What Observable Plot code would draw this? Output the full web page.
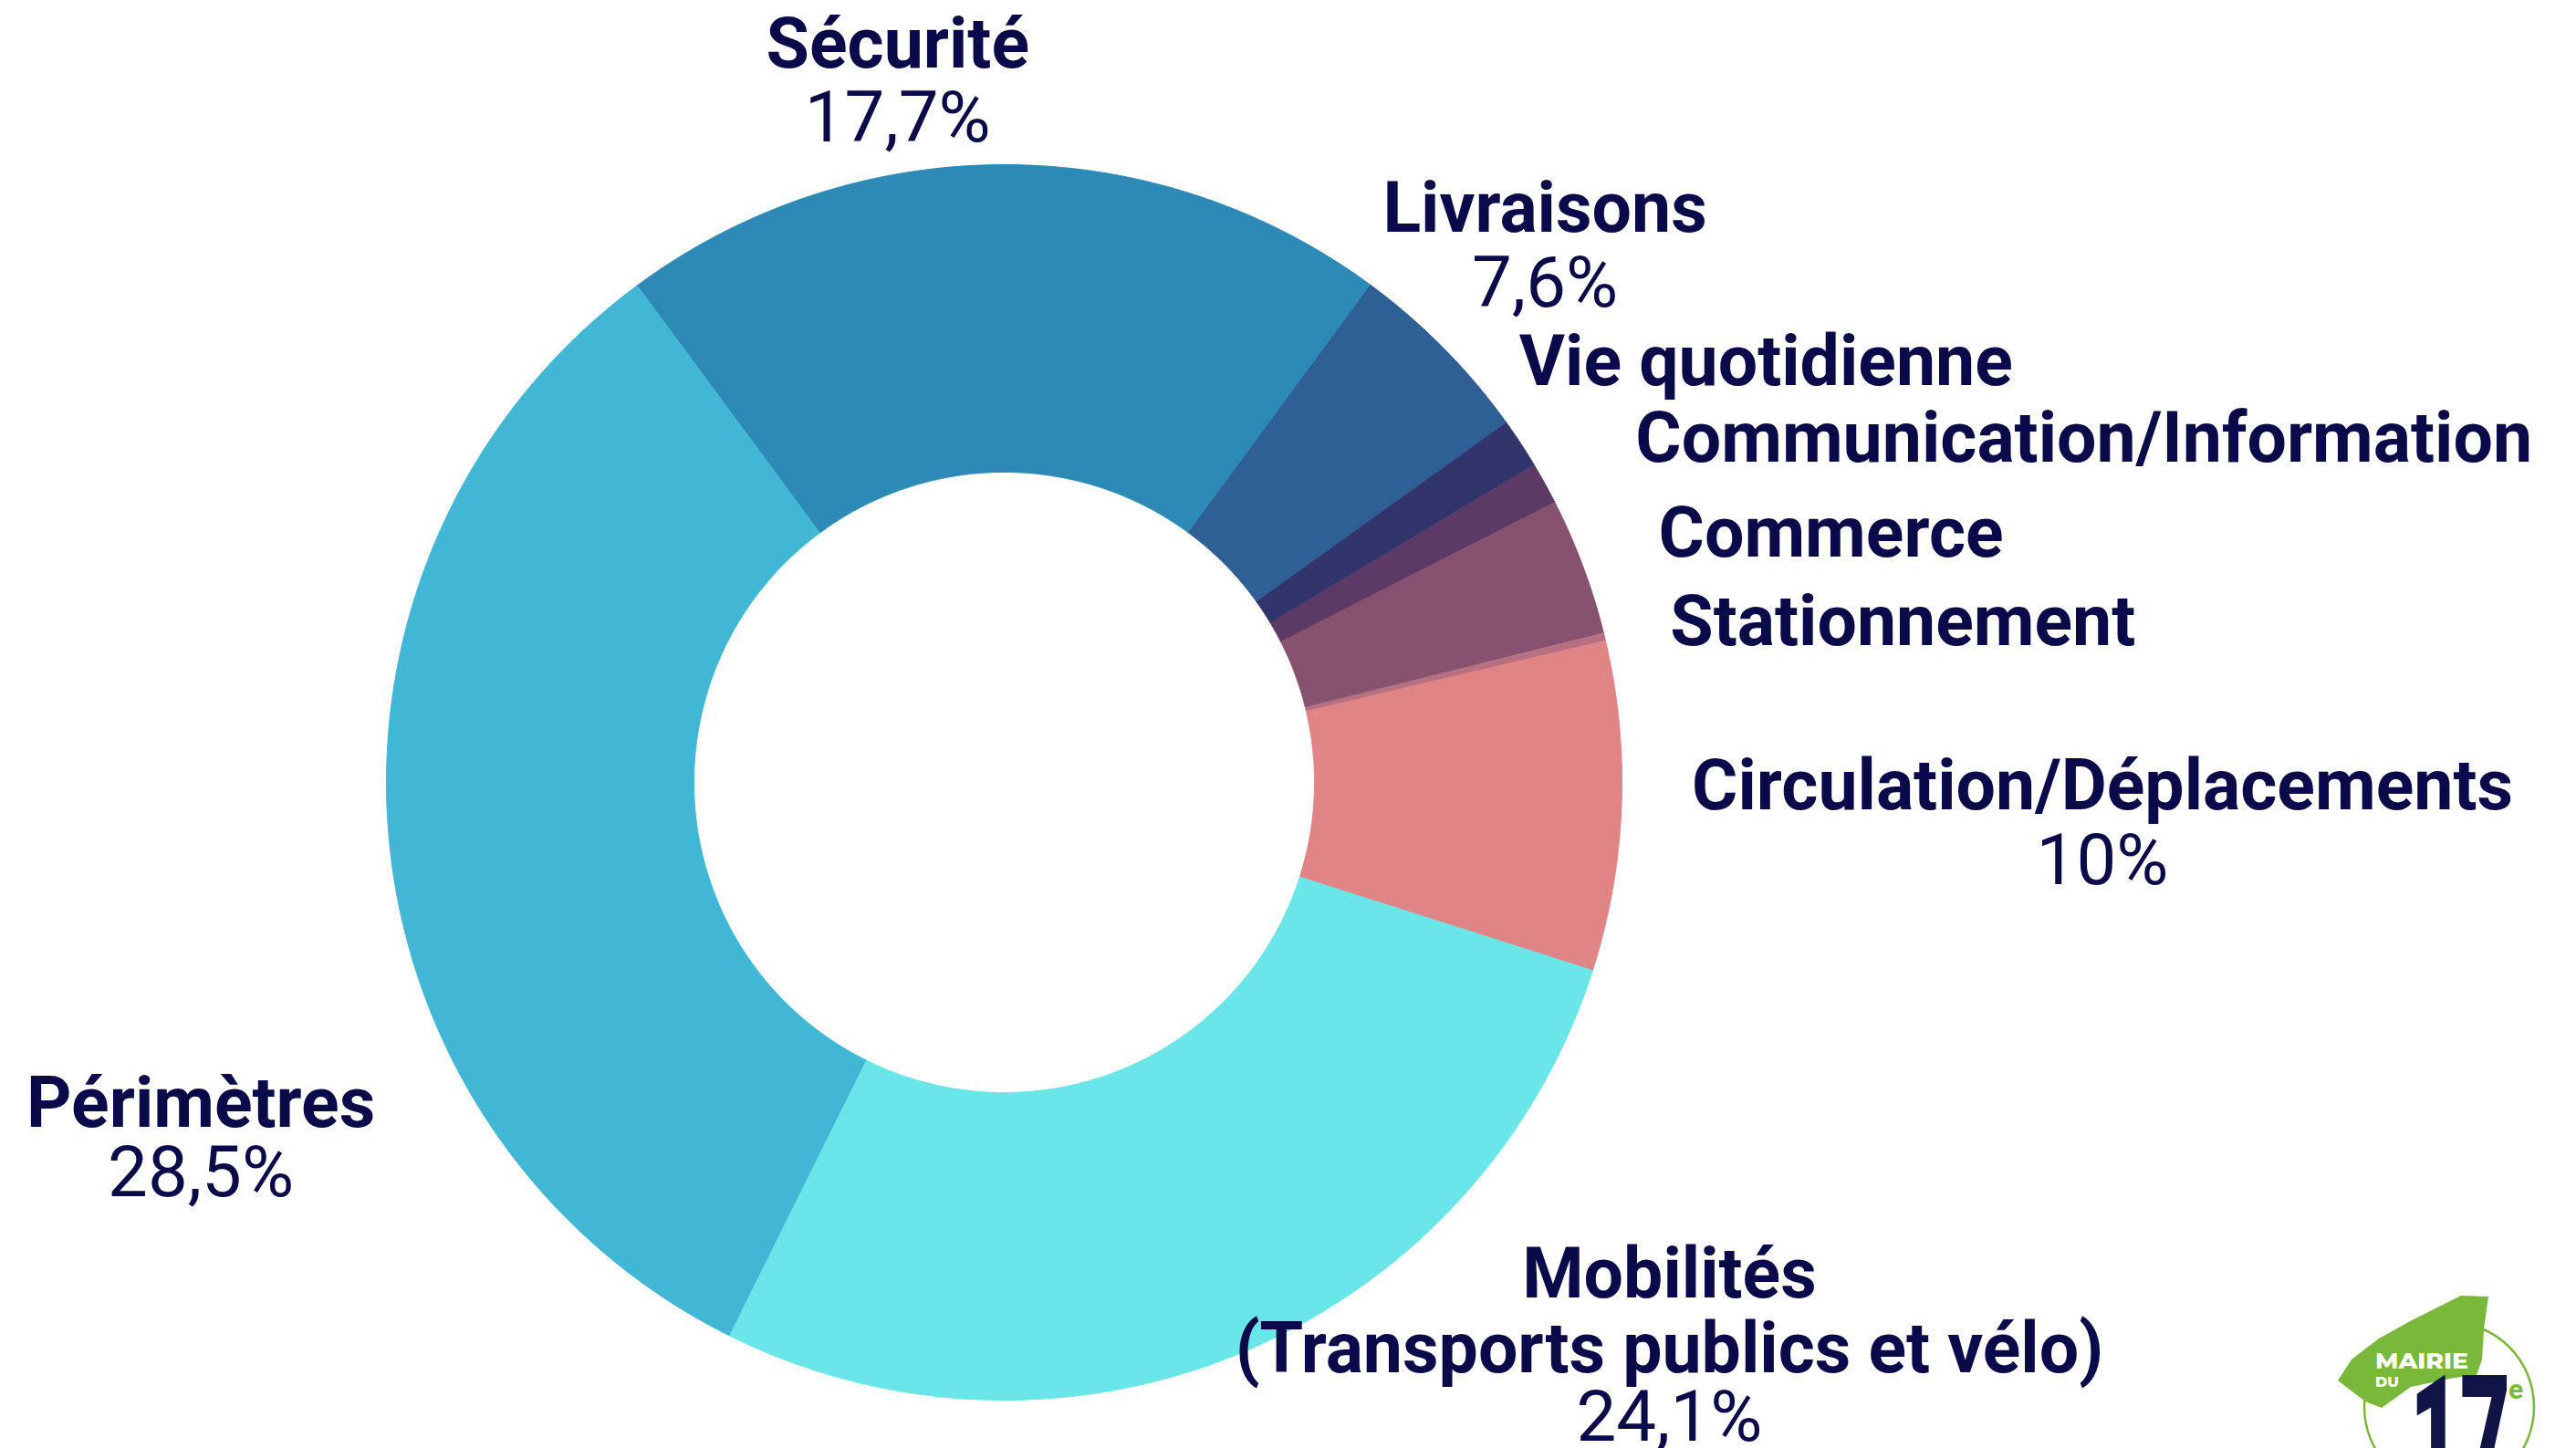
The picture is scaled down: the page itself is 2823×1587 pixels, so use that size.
<!DOCTYPE html>
<html>
<head>
<meta charset="utf-8">
<script src="https://cdn.jsdelivr.net/npm/d3@7"></script>
<script src="https://cdn.jsdelivr.net/npm/@observablehq/plot@0.6"></script>
<style>
  html, body { margin: 0; padding: 0; background: #ffffff; }
  #wrap { position: relative; width: 2823px; height: 1587px; overflow: hidden; background: #fff; }
  #chart svg { display: block; }
  #logo { position: absolute; left: 0; top: 0; }
</style>
</head>
<body>
<div id="wrap">
  <div id="chart"></div>
  <svg id="logo" width="2823" height="1587" viewBox="0 0 2823 1587">
    <circle cx="2684" cy="1542" r="93" fill="none" stroke="#79B83A" stroke-width="2.5"/>
    <polygon points="2562,1513 2577,1490 2607,1467 2643,1447 2673,1432 2697,1420 2727,1421 2722,1457 2720,1490 2714,1507 2690,1510 2642,1520 2610,1543 2592,1536" fill="#79B83A"/>
    <text x="2603" y="1500" font-family="Montserrat, 'Open Sans', sans-serif" font-weight="800" font-size="24" fill="#ffffff" textLength="102" lengthAdjust="spacingAndGlyphs">MAIRIE</text>
    <text x="2603" y="1520" font-family="Montserrat, 'Open Sans', sans-serif" font-weight="800" font-size="16" fill="#ffffff">DU</text>
    <text x="2641" y="1642" font-family="Roboto, sans-serif" font-weight="900" font-size="190" fill="#101447" textLength="110" lengthAdjust="spacingAndGlyphs">17</text>
    <text x="2749" y="1533" font-family="Roboto, sans-serif" font-weight="700" font-size="30" fill="#79B83A">e</text>
  </svg>
</div>
<script>
// ---------- data ----------
const categories = [
  "Sécurité", "Livraisons", "Vie quotidienne", "Communication/Information",
  "Commerce", "Stationnement", "Circulation/Déplacements", "Mobilités", "Périmètres"
];
// slice shares as drawn in the picture (%)
const sliceShare = [20.2, 5.0, 1.3, 1.1, 3.6, 0.2, 8.6, 27.4, 32.5];
// printed label texts
const displayNames = [
  "Sécurité", "Livraisons", "Vie quotidienne", "Communication/Information",
  "Commerce", "Stationnement", "Circulation/Déplacements",
  "Mobilités\n(Transports publics et vélo)", "Périmètres"
];
const pctLabels = ["17,7%", "7,6%", null, null, null, null, "10%", "24,1%", "28,5%"];
const sliceColors = [
  "#2D8AB7", "#2E5F95", "#31356B", "#5D3A66", "#87526F",
  "#B6707F", "#E18486", "#6AE5E8", "#42B7D5"
];

// ---------- layout ----------
const W = 2823, H = 1587;
const PX = 677;              // pixels per unit of radius
const CX = 1100, CY = 857;   // centre of the ring, in pixels
const INNER = 340 / 677;     // inner radius (units)
const START = -36.46 * Math.PI / 180;
// label nudges in px from each slice's outer mid-point: [dx, name baseline dy, percent baseline dy]
const labelNudge = [
  [-116, -107, -26],
  [111, -128, -46],
  [269, -64, null],
  [591, -23, null],
  [272, -10, null],
  [327, 9, null],
  [527, 4, 86],
  [465, 23, 98],
  [-206, 318, 394]
];
const INK = "#0A0949";

// ---------- geometry from data ----------
const arcs = d3.pie().sort(null).value(d => d)
  .startAngle(START).endAngle(START + 2 * Math.PI)(sliceShare);

const ringPoints = arcs.flatMap((a, i) => {
  const n = Math.max(2, Math.ceil((a.endAngle - a.startAngle) / 0.003));
  const ts = d3.range(n + 1).map(k => a.startAngle + (a.endAngle - a.startAngle) * k / n);
  const pts = ts.map(t => ({name: categories[i], x: Math.sin(t), y: Math.cos(t)}));
  ts.slice().reverse().forEach(t => pts.push({name: categories[i], x: INNER * Math.sin(t), y: INNER * Math.cos(t)}));
  return pts;
});

const labelRows = arcs.map((a, i) => {
  const mid = (a.startAngle + a.endAngle) / 2;
  const [dx, dyN, dyP] = labelNudge[i];
  const x = Math.sin(mid) + dx / PX;
  return {
    name: displayNames[i],
    pct: pctLabels[i],
    x,
    yName: Math.cos(mid) - dyN / PX,
    yPct: dyP == null ? null : Math.cos(mid) - dyP / PX
  };
});

const chart = Plot.plot({
  width: W,
  height: H,
  margin: 0,
  x: {domain: [-CX / PX, (W - CX) / PX], axis: null},
  y: {domain: [-(H - CY) / PX, CY / PX], axis: null},
  color: {domain: categories, range: sliceColors},
  style: {background: "#ffffff", overflow: "visible"},
  marks: [
    Plot.line(ringPoints, {
      x: "x", y: "y", z: "name", fill: "name", stroke: "name",
      strokeWidth: 1, curve: "linear"
    }),
    Plot.text(labelRows, {
      x: "x", y: "yName", text: "name",
      fontFamily: "Roboto, 'IBM Plex Sans', sans-serif", fontWeight: 700, fontSize: 77,
      fill: INK, textAnchor: "middle", lineAnchor: "bottom", lineHeight: 1.07
    }),
    Plot.text(labelRows.filter(d => d.pct != null), {
      x: "x", y: "yPct", text: "pct",
      fontFamily: "Roboto, 'IBM Plex Sans', sans-serif", fontWeight: 400, fontSize: 78,
      fill: INK, textAnchor: "middle", lineAnchor: "bottom"
    })
  ]
});
document.getElementById("chart").appendChild(chart);
</script>
</body>
</html>
